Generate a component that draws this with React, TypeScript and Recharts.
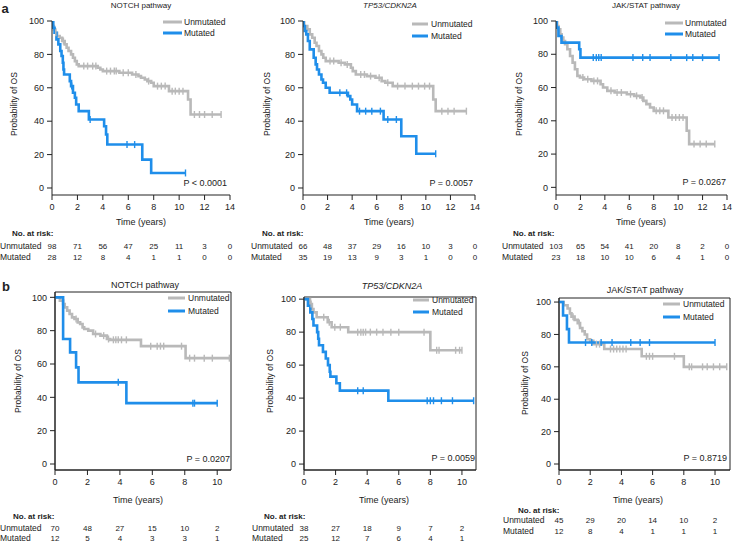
import React from 'react'
import { LineChart, Line, XAxis, YAxis, ReferenceArea } from 'recharts'

const FONT = '"Liberation Sans", Arial, Helvetica, sans-serif'
const GREY = '#b9b9b9'
const BLUE = '#1f8eea'
const AXIS = '#222'
const YW = 30
const XH = 20

// Kaplan-Meier steps: [time (years), survival %], censor times separately
const a1UnmutSteps = [[0, 100], [0.05, 97], [0.15, 95], [0.25, 93], [0.4, 91], [0.6, 90], [0.8, 88], [1.0, 86], [1.15, 84], [1.3, 82], [1.5, 80], [1.65, 78], [1.8, 76], [1.95, 74], [2.1, 73], [3.6, 72], [3.8, 71], [4.0, 70], [5.3, 69], [6.3, 68], [6.8, 67], [7.0, 66], [7.3, 65], [7.5, 64], [7.8, 63], [8.0, 61], [9.2, 58], [10.7, 53], [10.9, 44]]
const a1UnmutCens = [0.3, 0.9, 2.5, 2.8, 3.2, 3.45, 4.3, 4.6, 4.9, 5.05, 5.6, 6.0, 6.6, 7.6, 8.3, 8.6, 8.9, 9.45, 9.7, 10.0, 10.3, 11.2, 11.6, 12.0, 12.6, 13.3]
const a1MutSteps = [[0, 100], [0.1, 96], [0.2, 93], [0.35, 89], [0.5, 86], [0.65, 82], [0.75, 79], [0.85, 75], [0.9, 71], [0.95, 68], [1.4, 64], [1.5, 61], [1.65, 57], [1.8, 54], [1.9, 50], [2.1, 46], [2.9, 41], [4.1, 37], [4.25, 32], [4.35, 26], [7.1, 17], [7.8, 9]]
const a1MutCens = [1.55, 3.0, 5.9, 6.5, 10.5]

const a2UnmutSteps = [[0, 100], [0.1, 97], [0.35, 95], [0.55, 92], [0.75, 90], [0.95, 87], [1.1, 85], [1.3, 82], [1.5, 80], [1.65, 78], [1.85, 76], [2.9, 75], [3.4, 74], [3.9, 72], [4.05, 70], [4.3, 68], [5.2, 67], [5.9, 66], [6.4, 64], [6.7, 63], [7.3, 61], [10.6, 53], [10.8, 46]]
const a2UnmutCens = [2.2, 2.5, 3.1, 3.6, 4.7, 5.0, 5.5, 6.2, 6.9, 7.7, 8.3, 8.9, 9.4, 9.9, 10.3, 11.3, 11.8, 12.3, 13.3]
const a2MutSteps = [[0, 100], [0.05, 97], [0.15, 94], [0.27, 92], [0.4, 88], [0.55, 83], [0.87, 78], [1.03, 74], [1.14, 71], [1.3, 68], [1.5, 65], [1.63, 63], [1.85, 60], [2.17, 57], [3.66, 55], [3.85, 53], [4.0, 50], [4.4, 46], [6.56, 41], [8.0, 31], [9.22, 20.5]]
const a2MutCens = [3.0, 3.55, 4.6, 5.1, 5.6, 6.3, 6.9, 7.6, 10.8]

const a3UnmutSteps = [[0, 100], [0.1, 97], [0.2, 95], [0.35, 92], [0.46, 90], [0.6, 88], [0.74, 86], [0.93, 83], [1.15, 79], [1.36, 75], [1.55, 71], [1.75, 67], [1.96, 66], [2.3, 65], [2.9, 64], [3.65, 62], [3.85, 60], [4.2, 58], [4.8, 57], [5.8, 56], [6.4, 55], [6.9, 54], [7.15, 52], [7.4, 50], [7.7, 48], [8.0, 46], [9.2, 42], [10.7, 34], [10.9, 26]]
const a3UnmutCens = [2.2, 2.6, 3.1, 3.4, 4.5, 5.0, 5.35, 6.1, 6.6, 7.05, 8.2, 8.5, 8.8, 9.5, 9.8, 10.1, 10.4, 11.3, 11.8, 12.3, 13.0]
const a3MutSteps = [[0, 100], [0.05, 96], [0.2, 91], [0.45, 87], [1.9, 83], [2.0, 78]]
const a3MutCens = [3.05, 3.3, 3.5, 3.7, 6.3, 7.1, 7.7, 9.4, 10.7, 11.2, 12.0, 13.35]

const b1UnmutSteps = [[0, 100], [0.3, 98], [0.5, 96], [0.6, 94], [0.75, 92], [0.9, 90], [1.05, 88], [1.2, 87], [1.4, 85], [1.55, 84], [1.7, 82], [1.8, 81], [2.05, 80], [2.35, 78], [2.8, 77], [3.2, 75], [3.4, 74.5], [5.3, 70.7], [8.05, 63.5]]
const b1UnmutCens = [1.3, 2.5, 3.0, 3.3, 3.6, 3.75, 3.9, 4.1, 4.4, 5.9, 6.3, 6.5, 6.7, 7.8, 8.3, 8.6, 9.2, 9.7, 10.75]
const b1MutSteps = [[0, 100], [0.5, 75], [0.93, 67], [1.3, 58], [1.45, 49], [4.4, 36.5]]
const b1MutCens = [3.9, 8.5, 8.6, 10.0]

const b2UnmutSteps = [[0, 100], [0.38, 97], [0.5, 94], [0.6, 92], [0.8, 89], [1.5, 86], [1.75, 83], [2.8, 80], [8.0, 69]]
const b2UnmutCens = [0.45, 1.25, 1.6, 1.95, 2.3, 3.4, 3.6, 3.75, 3.9, 4.2, 4.6, 5.0, 5.5, 6.0, 7.6, 8.4, 8.55, 9.6, 9.85, 10.0]
const b2MutSteps = [[0, 100], [0.25, 96], [0.4, 92], [0.53, 88], [0.6, 84], [0.83, 80], [0.9, 76], [0.95, 72], [1.2, 68], [1.38, 64], [1.52, 60], [1.63, 56], [1.67, 53], [2.05, 49], [2.27, 44.5], [5.34, 38.4]]
const b2MutCens = [3.4, 3.75, 7.8, 8.0, 8.2, 8.7, 9.4, 10.74]

const b3UnmutSteps = [[0, 100], [0.3, 98], [0.55, 96], [0.7, 93], [0.8, 91], [1.0, 89], [1.2, 87], [1.35, 84], [1.5, 82], [1.65, 80], [1.8, 77], [2.0, 76], [2.2, 74], [2.9, 71], [5.3, 66.5], [8.0, 60]]
const b3UnmutCens = [0.9, 1.3, 2.4, 2.6, 3.3, 3.5, 3.7, 3.9, 4.1, 4.3, 5.6, 5.8, 6.0, 7.4, 8.35, 8.5, 9.2, 9.5, 9.9, 10.3, 10.75]
const b3MutSteps = [[0, 100], [0.26, 91.7], [0.51, 83.3], [0.64, 75]]
const b3MutCens = [1.7, 2.1, 2.7, 3.4, 4.6, 5.2, 5.8, 10.0]

// numbers at risk
const a1RiskUnmut = [98, 71, 56, 47, 25, 11, 3, 0]
const a1RiskMut = [28, 12, 8, 4, 1, 1, 0, 0]
const a2RiskUnmut = [66, 48, 37, 29, 16, 10, 3, 0]
const a2RiskMut = [35, 19, 13, 9, 3, 1, 0, 0]
const a3RiskUnmut = [103, 65, 54, 41, 20, 8, 2, 0]
const a3RiskMut = [23, 18, 10, 10, 6, 4, 1, 0]
const b1RiskUnmut = [70, 48, 27, 15, 10, 2]
const b1RiskMut = [12, 5, 4, 3, 3, 1]
const b2RiskUnmut = [38, 27, 18, 9, 7, 2]
const b2RiskMut = [25, 12, 7, 6, 4, 1]
const b3RiskUnmut = [45, 29, 20, 14, 10, 2]
const b3RiskMut = [12, 8, 4, 1, 1, 1]

const ticksA = [0, 2, 4, 6, 8, 10, 12, 14]
const ticksB = [0, 2, 4, 6, 8, 10]
const yTicks = [0, 20, 40, 60, 80, 100]

// merge steps + censor marks into one stepAfter series
function km(steps: number[][], cens: number[]) {
  const pts = steps.map(([t, s]) => ({ t, s, c: false }))
  cens.forEach((t) => {
    let s = steps[0][1]
    steps.forEach(([st, sv]) => { if (st <= t) s = sv })
    pts.push({ t, s, c: true })
  })
  return pts.sort((a, b) => a.t - b.t)
}

const CensorDot = (props: any) => {
  const { cx, cy, payload, stroke, index } = props
  if (!payload || !payload.c) return <g key={`n${index}`} />
  return <line key={`c${index}`} x1={cx} x2={cx} y1={cy - 3.5} y2={cy + 3.5} stroke={stroke} strokeWidth={1.4} />
}

const XTick = (props: any) => {
  const { x, y, payload, ticks, riskUnmut, riskMut, riskDy } = props
  const i = ticks.indexOf(payload.value)
  const axisY = y - 9
  const common = { textAnchor: 'middle' as const, fill: '#222', fontFamily: FONT }
  return (
    <g>
      <text x={x} y={y} dy="0.71em" fontSize={9} {...common}>{payload.value}</text>
      <text x={x} y={axisY + riskDy[0]} dy="0.35em" fontSize={8} {...common}>{riskUnmut[i]}</text>
      <text x={x} y={axisY + riskDy[1]} dy="0.35em" fontSize={8} {...common}>{riskMut[i]}</text>
    </g>
  )
}

function Txt({ x, y, a = 'start', size = 9, bold = false, italic = false, rot = false, children }: any) {
  const tx = a === 'start' ? '0' : a === 'middle' ? '-50%' : '-100%'
  return (
    <div style={{
      position: 'absolute', left: x, top: y, whiteSpace: 'nowrap', lineHeight: 1,
      transform: `translate(${tx}, -50%)${rot ? ' rotate(-90deg)' : ''}`,
      fontFamily: FONT, fontSize: size, fontWeight: bold ? 700 : 400,
      fontStyle: italic ? 'italic' : 'normal', color: '#222',
    }}>{children}</div>
  )
}

function LegendKey({ x1, x2, tx, y1, y2 }: any) {
  return (
    <>
      <svg style={{ position: 'absolute', left: x1, top: y1 - 2, overflow: 'visible' }} width={x2 - x1} height={4}>
        <line x1={0} x2={x2 - x1} y1={2} y2={2} stroke={GREY} strokeWidth={3} />
      </svg>
      <svg style={{ position: 'absolute', left: x1, top: y2 - 2, overflow: 'visible' }} width={x2 - x1} height={4}>
        <line x1={0} x2={x2 - x1} y1={2} y2={2} stroke={BLUE} strokeWidth={3} />
      </svg>
      <Txt x={tx} y={y1} size={8.5}>Unmutated</Txt>
      <Txt x={tx} y={y2} size={8.5}>Mutated</Txt>
    </>
  )
}

function Panel(cfg: any) {
  const [bl, bt, bw, bh] = cfg.box
  const [pl, pt, pr, pb] = cfg.plot
  const margin = { top: pt - bt, left: pl - bl - YW, right: bl + bw - pr, bottom: bt + bh - pb - XH }
  const unmut = km(cfg.unmut[0], cfg.unmut[1])
  const mut = km(cfg.mut[0], cfg.mut[1])
  return (
    <div style={{ position: 'absolute', left: bl, top: bt }}>
      <LineChart width={bw} height={bh} margin={margin}>
        <XAxis
          type="number" dataKey="t" domain={[0, cfg.xMax]} ticks={cfg.ticks} interval={0}
          allowDataOverflow stroke={AXIS} tickSize={5} tickMargin={4} height={XH}
          tick={(p: any) => <XTick {...p} ticks={cfg.ticks} riskUnmut={cfg.riskUnmut} riskMut={cfg.riskMut} riskDy={cfg.riskDy} />}
        />
        <YAxis
          type="number" domain={cfg.yDom} ticks={yTicks} interval={0} allowDataOverflow
          width={YW} stroke={AXIS} tickSize={5} tickMargin={3}
          tick={{ fontSize: 9, fill: '#222', fontFamily: FONT }}
        />
        {cfg.framed && (
          <ReferenceArea x1={0} x2={cfg.xMax} y1={cfg.yDom[0]} y2={cfg.yDom[1]} fill="none" stroke={AXIS} strokeWidth={1} ifOverflow="visible" />
        )}
        <Line data={unmut} dataKey="s" type="stepAfter" stroke={GREY} strokeWidth={2.6} dot={CensorDot} activeDot={false} isAnimationActive={false} />
        <Line data={mut} dataKey="s" type="stepAfter" stroke={BLUE} strokeWidth={2.6} dot={CensorDot} activeDot={false} isAnimationActive={false} />
      </LineChart>
    </div>
  )
}

export default function App() {
  return (
    <div style={{ position: 'absolute', left: 0, top: 0, width: 733, height: 542, background: '#fff', overflow: 'hidden' }}>
      <Panel box={[0, 0, 245, 270]} plot={[52, 21, 230, 195]} xMax={14} ticks={ticksA} yDom={[-4.2, 100]}
        unmut={[a1UnmutSteps, a1UnmutCens]} mut={[a1MutSteps, a1MutCens]} riskUnmut={a1RiskUnmut} riskMut={a1RiskMut} riskDy={[51, 62]} />
      <Panel box={[245, 0, 245, 270]} plot={[303, 21, 475, 195]} xMax={14} ticks={ticksA} yDom={[-4.2, 100]}
        unmut={[a2UnmutSteps, a2UnmutCens]} mut={[a2MutSteps, a2MutCens]} riskUnmut={a2RiskUnmut} riskMut={a2RiskMut} riskDy={[51, 62]} />
      <Panel box={[490, 0, 243, 270]} plot={[556, 21, 727, 195]} xMax={14} ticks={ticksA} yDom={[-4.6, 100]}
        unmut={[a3UnmutSteps, a3UnmutCens]} mut={[a3MutSteps, a3MutCens]} riskUnmut={a3RiskUnmut} riskMut={a3RiskMut} riskDy={[51, 62]} />
      <Panel box={[0, 275, 245, 267]} plot={[55, 292, 231, 470]} xMax={10.85} ticks={ticksB} yDom={[-3.6, 103.2]} framed
        unmut={[b1UnmutSteps, b1UnmutCens]} mut={[b1MutSteps, b1MutCens]} riskUnmut={b1RiskUnmut} riskMut={b1RiskMut} riskDy={[58, 68]} />
      <Panel box={[245, 275, 245, 267]} plot={[304, 297, 476, 470]} xMax={10.89} ticks={ticksB} yDom={[-3.6, 101.3]} framed
        unmut={[b2UnmutSteps, b2UnmutCens]} mut={[b2MutSteps, b2MutCens]} riskUnmut={b2RiskUnmut} riskMut={b2RiskMut} riskDy={[58, 68]} />
      <Panel box={[490, 275, 243, 267]} plot={[559, 298, 730, 470]} xMax={10.96} ticks={ticksB} yDom={[-3.7, 102.5]} framed
        unmut={[b3UnmutSteps, b3UnmutCens]} mut={[b3MutSteps, b3MutCens]} riskUnmut={b3RiskUnmut} riskMut={b3RiskMut} riskDy={[50, 61]} />

      {/* panel letters and titles */}
      <Txt x={5} y={8} a="middle" size={13} bold>a</Txt>
      <Txt x={6} y={286} a="middle" size={13} bold>b</Txt>
      <Txt x={141} y={6} a="middle" size={8}>NOTCH pathway</Txt>
      <Txt x={390} y={6} a="middle" size={8} italic>TP53/CDKN2A</Txt>
      <Txt x={646} y={6} a="middle" size={8}>JAK/STAT pathway</Txt>
      <Txt x={145} y={285} a="middle" size={9}>NOTCH pathway</Txt>
      <Txt x={392} y={286} a="middle" size={9} italic>TP53/CDKN2A</Txt>
      <Txt x={645} y={290} a="middle" size={9}>JAK/STAT pathway</Txt>

      {/* legends */}
      <LegendKey x1={163} x2={182} tx={184} y1={22} y2={33} />
      <LegendKey x1={412} x2={428} tx={431} y1={24} y2={36} />
      <LegendKey x1={665} x2={683} tx={685} y1={23} y2={34} />
      <LegendKey x1={168} x2={185} tx={188} y1={298} y2={311} />
      <LegendKey x1={413} x2={429} tx={432} y1={300} y2={312} />
      <LegendKey x1={663} x2={680} tx={683} y1={304} y2={317} />

      {/* p values */}
      <Txt x={227} y={183} a="end" size={9}>P &lt; 0.0001</Txt>
      <Txt x={473} y={183} a="end" size={9}>P = 0.0057</Txt>
      <Txt x={726} y={182} a="end" size={9}>P = 0.0267</Txt>
      <Txt x={230} y={459} a="end" size={9}>P = 0.0207</Txt>
      <Txt x={475} y={458} a="end" size={9}>P = 0.0059</Txt>
      <Txt x={727} y={458} a="end" size={9}>P = 0.8719</Txt>

      {/* axis titles */}
      <Txt x={14} y={104} a="middle" size={8.5} rot>Probability of OS</Txt>
      <Txt x={267} y={104} a="middle" size={8.5} rot>Probability of OS</Txt>
      <Txt x={519} y={104} a="middle" size={8.5} rot>Probability of OS</Txt>
      <Txt x={18} y={381} a="middle" size={8.5} rot>Probability of OS</Txt>
      <Txt x={270} y={381} a="middle" size={8.5} rot>Probability of OS</Txt>
      <Txt x={525} y={383} a="middle" size={8.5} rot>Probability of OS</Txt>
      <Txt x={141} y={222} a="middle" size={9}>Time (years)</Txt>
      <Txt x={389} y={222} a="middle" size={9}>Time (years)</Txt>
      <Txt x={641} y={222} a="middle" size={9}>Time (years)</Txt>
      <Txt x={138} y={500} a="middle" size={9}>Time (years)</Txt>
      <Txt x={384} y={500} a="middle" size={9}>Time (years)</Txt>
      <Txt x={638} y={500} a="middle" size={9}>Time (years)</Txt>

      {/* risk table row labels */}
      <Txt x={12} y={234} size={8} bold>No. at risk:</Txt>
      <Txt x={0} y={246} size={8.5}>Unmutated</Txt>
      <Txt x={0} y={257} size={8.5}>Mutated</Txt>
      <Txt x={262} y={234} size={8} bold>No. at risk:</Txt>
      <Txt x={251} y={246} size={8.5}>Unmutated</Txt>
      <Txt x={251} y={257} size={8.5}>Mutated</Txt>
      <Txt x={513} y={234} size={8} bold>No. at risk:</Txt>
      <Txt x={502} y={246} size={8.5}>Unmutated</Txt>
      <Txt x={502} y={257} size={8.5}>Mutated</Txt>
      <Txt x={13} y={517} size={8} bold>No. at risk:</Txt>
      <Txt x={0} y={528} size={8.5}>Unmutated</Txt>
      <Txt x={0} y={538} size={8.5}>Mutated</Txt>
      <Txt x={264} y={517} size={8} bold>No. at risk:</Txt>
      <Txt x={252} y={528} size={8.5}>Unmutated</Txt>
      <Txt x={252} y={538} size={8.5}>Mutated</Txt>
      <Txt x={518} y={511} size={8} bold>No. at risk:</Txt>
      <Txt x={503} y={520} size={8.5}>Unmutated</Txt>
      <Txt x={503} y={531} size={8.5}>Mutated</Txt>
    </div>
  )
}
